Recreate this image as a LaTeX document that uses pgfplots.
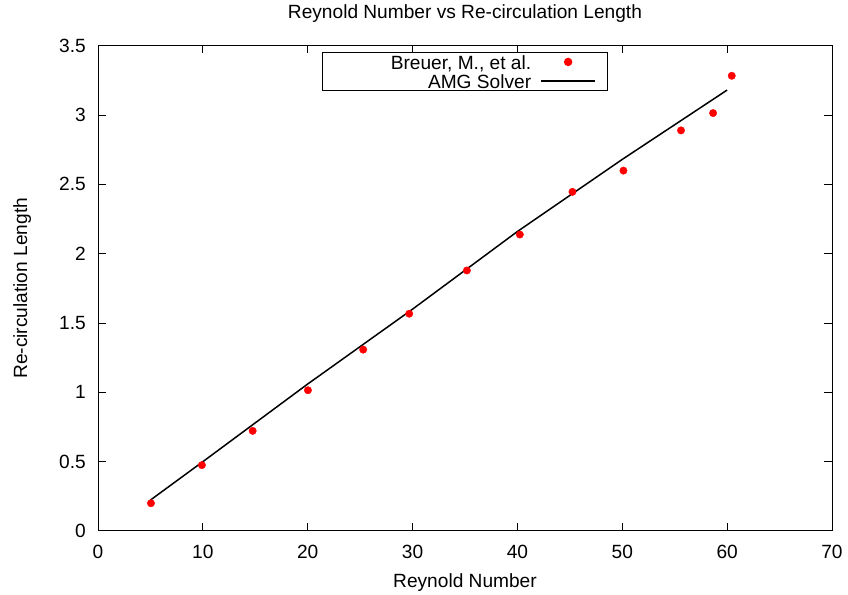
\documentclass[border=0pt]{standalone}
\usepackage{pgfplots}
\pgfplotsset{compat=1.18}
\usepackage{fontspec}
\setmainfont{Liberation Sans}
\newcommand{\fsz}{\fontsize{19.2}{23}\selectfont}
\pgfplotsset{
  dotlegend/.style={legend image code/.code={\path[draw=none] (0bp,0bp) -- (76.7bp,0bp);
    \draw[##1, mark repeat=2, mark phase=2] plot coordinates {(10bp,0bp)(37bp,0bp)(64bp,0bp)};}},
  linelegend/.style={legend image code/.code={\path[draw=none] (0bp,0bp) -- (76.7bp,0bp);
    \draw[##1] (10bp,0bp) -- (64bp,0bp);}}
}
\begin{document}
\begin{tikzpicture}
\path (0,0) rectangle (848bp,592bp);
\begin{axis}[
  at={(98bp,61bp)}, anchor=south west,
  scale only axis, width=734bp, height=485.3bp,
  xmin=0, xmax=70, ymin=0, ymax=3.5,
  xtick={0,10,...,70}, ytick={0,0.5,...,3.5},
  tick align=inside, major tick length=7.5bp,
  axis line style={line width=1bp},
  every tick/.style={black, line width=1bp},
  /pgf/number format/assume math mode=true,
  tick label style={font=\fsz},
  xticklabel style={inner sep=0pt, anchor=north, yshift=-14bp},
  yticklabel style={inner sep=0pt, anchor=east, xshift=-12bp},
  title={Reynold Number vs Re-circulation Length},
  title style={at={(axis description cs:0.5,1.0447)}, anchor=base, font=\fsz},
  xlabel={Reynold Number},
  xlabel style={at={(axis description cs:0.5,-0.1154)}, anchor=base, font=\fsz},
  ylabel={Re-circulation Length},
  ylabel style={at={(axis description cs:-0.0967,0.5)}, anchor=base, font=\fsz},
  legend plot pos=right,
  legend cell align=right,
  legend style={at={(axis description cs:0.5,1)}, anchor=north, yshift=-6.6bp,
    draw=black, line width=1bp, inner sep=0pt, outer sep=0pt,
    row sep=0pt, column sep=0pt, font=\fsz,
    nodes={inner xsep=0pt, inner ysep=0pt, text height=17bp, text depth=2.3bp}},
]
\addplot[only marks, mark=*, mark size=3.7bp, color=red,
  mark options={fill=red, draw=red}, dotlegend]
coordinates {
(5.05,0.200) (9.91,0.475) (14.75,0.722) (20.02,1.015) (25.29,1.308)
(29.68,1.567) (35.18,1.879) (40.23,2.138) (45.25,2.446) (50.11,2.599)
(55.6,2.889) (58.66,3.014) (60.44,3.283)
};
\addlegendentry{\makebox[209bp][r]{Breuer, M., et al.}}
\addplot[black, line width=1.5bp, mark=none, linelegend]
coordinates {
(5,0.223) (10,0.50) (15,0.78) (20,1.06) (25,1.33) (30,1.60)
(35,1.88) (40,2.16) (45,2.42) (50,2.68) (55,2.93) (60,3.18)
};
\addlegendentry{\makebox[209bp][r]{AMG Solver}}
\end{axis}
\end{tikzpicture}
\end{document}
